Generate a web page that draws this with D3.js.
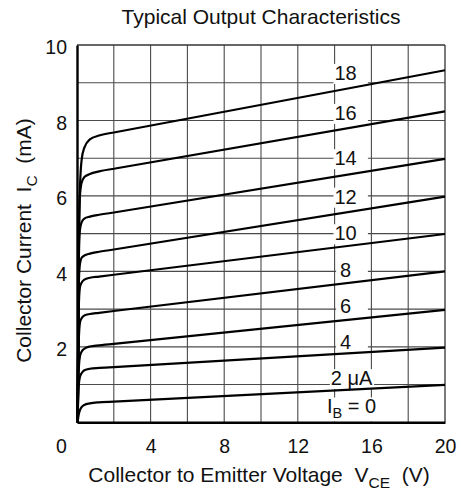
<!DOCTYPE html>
<html><head><meta charset="utf-8">
<script src="https://cdn.jsdelivr.net/npm/d3@7"></script>
<style>
html,body{margin:0;padding:0;background:#fff;}
svg{display:block;font-family:"Liberation Sans",Arial,Helvetica,sans-serif;}
</style></head>
<body>
<svg id="chart" width="467" height="496"></svg>
<script>
// ---- data ----
const title = "Typical Output Characteristics";
const xTicks = [0, 4, 8, 12, 16, 20];
const yTicks = [2, 4, 6, 8, 10];
const baseCurrents = [2, 4, 6, 8, 10, 12, 14, 16, 18]; // µA
const curveLabels = ["2 μA", "4", "6", "8", "10", "12", "14", "16", "18"];
// collector-emitter voltage sample points (V)
const vce = [0.03, 0.1, 0.16, 0.25, 0.4, 0.7, 1.2, 2, 20];
// collector current (mA) at each vce point, one array per base current
const ic2  = [0, 0.22, 0.32, 0.40, 0.46, 0.50, 0.53, 0.55, 0.99];
const ic4  = [0, 1.00, 1.20, 1.30, 1.38, 1.42, 1.44, 1.46, 1.98];
const ic6  = [0, 1.45, 1.75, 1.87, 1.95, 2.01, 2.04, 2.08, 2.98];
const ic8  = [0, 2.20, 2.64, 2.76, 2.83, 2.87, 2.90, 2.95, 4.00];
const ic10 = [0, 3.10, 3.58, 3.70, 3.78, 3.83, 3.86, 3.91, 4.99];
const ic12 = [0, 3.70, 4.20, 4.36, 4.42, 4.47, 4.52, 4.58, 5.98];
const ic14 = [0, 4.30, 5.10, 5.30, 5.40, 5.45, 5.50, 5.56, 6.98];
const ic16 = [0, 4.60, 6.00, 6.35, 6.50, 6.58, 6.65, 6.72, 8.24];
const ic18 = [0, 4.80, 6.20, 6.95, 7.28, 7.50, 7.60, 7.68, 9.33];
// where each curve label sits (V, mA)
const labelV = 14.6;
const labelI = [1.17, 2.14, 3.07, 4.04, 5.01, 5.98, 7.00, 8.20, 9.26];
const zeroLabelI = 0.42;

const series = [ic2, ic4, ic6, ic8, ic10, ic12, ic14, ic16, ic18];

// ---- layout ----
const svg = d3.select("#chart");
const x = d3.scaleLinear().domain([0, 20]).range([77, 445]);
const y = d3.scaleLinear().domain([0, 10]).range([422.3, 45]);
const gridColor = "#4a4a4a";

// title
svg.append("text").attr("x", 261).attr("y", 24).attr("text-anchor", "middle")
  .attr("font-size", 21).attr("fill", "#111").text(title);

// horizontal grid
const gH = svg.append("g");
gH.selectAll("line").data(d3.range(1, 10)).join("line")
  .attr("x1", x(0)).attr("x2", x(20)).attr("y1", d => y(d)).attr("y2", d => y(d))
  .attr("stroke", gridColor).attr("stroke-width", 1.1);

// label backgrounds hiding horizontal grid between 14 V and 16 V
const allLabelI = labelI.concat([zeroLabelI]);
svg.append("g").selectAll("rect").data(allLabelI).join("rect")
  .attr("x", x(14) + 1.5).attr("width", x(16) - x(14) - 5)
  .attr("y", d => y(d) - 8).attr("height", 19).attr("fill", "#fff");

// vertical grid
svg.append("g").selectAll("line").data(d3.range(2, 20, 2)).join("line")
  .attr("y1", y(0)).attr("y2", y(10)).attr("x1", d => x(d)).attr("x2", d => x(d))
  .attr("stroke", gridColor).attr("stroke-width", 1.1);

// frame top/right
svg.append("line").attr("x1", x(0)).attr("x2", x(20)).attr("y1", y(10)).attr("y2", y(10))
  .attr("stroke", "#333").attr("stroke-width", 1.3);
svg.append("line").attr("x1", x(20)).attr("x2", x(20)).attr("y1", y(0)).attr("y2", y(10))
  .attr("stroke", "#333").attr("stroke-width", 1.3);

// curve labels
const gLab = svg.append("g").attr("font-size", 20).attr("fill", "#111");
const labelNodes = [];
curveLabels.forEach((t, i) => {
  const tx = gLab.append("text").attr("x", x(labelV) + (i === 0 ? 6 : 0))
    .attr("y", y(labelI[i]) + 7).attr("text-anchor", "middle").text(t);
  labelNodes.push(tx);
});
const zl = gLab.append("text").attr("x", x(labelV) + 6).attr("y", y(zeroLabelI) + 7)
  .attr("text-anchor", "middle");
zl.append("tspan").text("I");
zl.append("tspan").attr("font-size", 14.5).attr("dy", 5).text("B");
zl.append("tspan").attr("dy", -5).text(" = 0");
labelNodes.push(zl);
// tight white boxes behind label text
labelNodes.forEach(n => {
  const b = n.node().getBBox();
  gLab.insert("rect", "text").attr("x", b.x - 1).attr("y", b.y + 2)
    .attr("width", b.width + 2).attr("height", b.height - 2).attr("fill", "#fff");
});

// curves: smooth knee, straight active region
const knee = d3.line().x(d => x(d[0])).y(d => y(d[1])).curve(d3.curveMonotoneX);
svg.append("g").selectAll("path").data(series).join("path")
  .attr("d", s => {
    const pts = vce.map((v, i) => [v, s[i]]);
    const last = pts[pts.length - 1];
    return knee(pts.slice(0, -1)) + `L${x(last[0])},${y(last[1])}`;
  })
  .attr("fill", "none").attr("stroke", "#000").attr("stroke-width", 2.2)
  .attr("stroke-linejoin", "round");

// axes
const xAxis = svg.append("g").attr("transform", `translate(0,${y(0)})`)
  .call(d3.axisBottom(x).tickValues(xTicks).tickSize(0).tickPadding(0).tickFormat(d3.format("d")));
xAxis.select(".domain").attr("stroke", "#000").attr("stroke-width", 2.4);
xAxis.selectAll(".tick text").attr("font-size", 19.5).attr("fill", "#111")
  .attr("font-family", null).attr("dy", null).attr("y", 31)
  .attr("dx", d => d === 0 ? -16 : 0);

const yAxis = svg.append("g").attr("transform", `translate(${x(0)},0)`)
  .call(d3.axisLeft(y).tickValues(yTicks).tickSize(0).tickPadding(10).tickFormat(d3.format("d")));
yAxis.select(".domain").attr("stroke", "#000").attr("stroke-width", 2.4);
yAxis.selectAll(".tick text").attr("font-size", 19.5).attr("fill", "#111")
  .attr("font-family", null).attr("dy", "0.38em").attr("y", 1.5);

// axis titles
const xl = svg.append("text").attr("x", 259).attr("y", 482).attr("text-anchor", "middle")
  .attr("font-size", 21).attr("fill", "#111").style("white-space", "pre");
xl.append("tspan").text("Collector to Emitter Voltage  V");
xl.append("tspan").attr("font-size", 15.5).attr("dy", 6).text("CE");
xl.append("tspan").attr("dy", -6).text("  (V)");

const yl = svg.append("text").attr("transform", "translate(31,240.5) rotate(-90)")
  .attr("text-anchor", "middle").attr("font-size", 21).attr("fill", "#111")
  .style("white-space", "pre");
yl.append("tspan").text("Collector Current  I");
yl.append("tspan").attr("font-size", 15.5).attr("dy", 6).text("C");
yl.append("tspan").attr("dy", -6).text("  (mA)");
</script>
</body></html>
